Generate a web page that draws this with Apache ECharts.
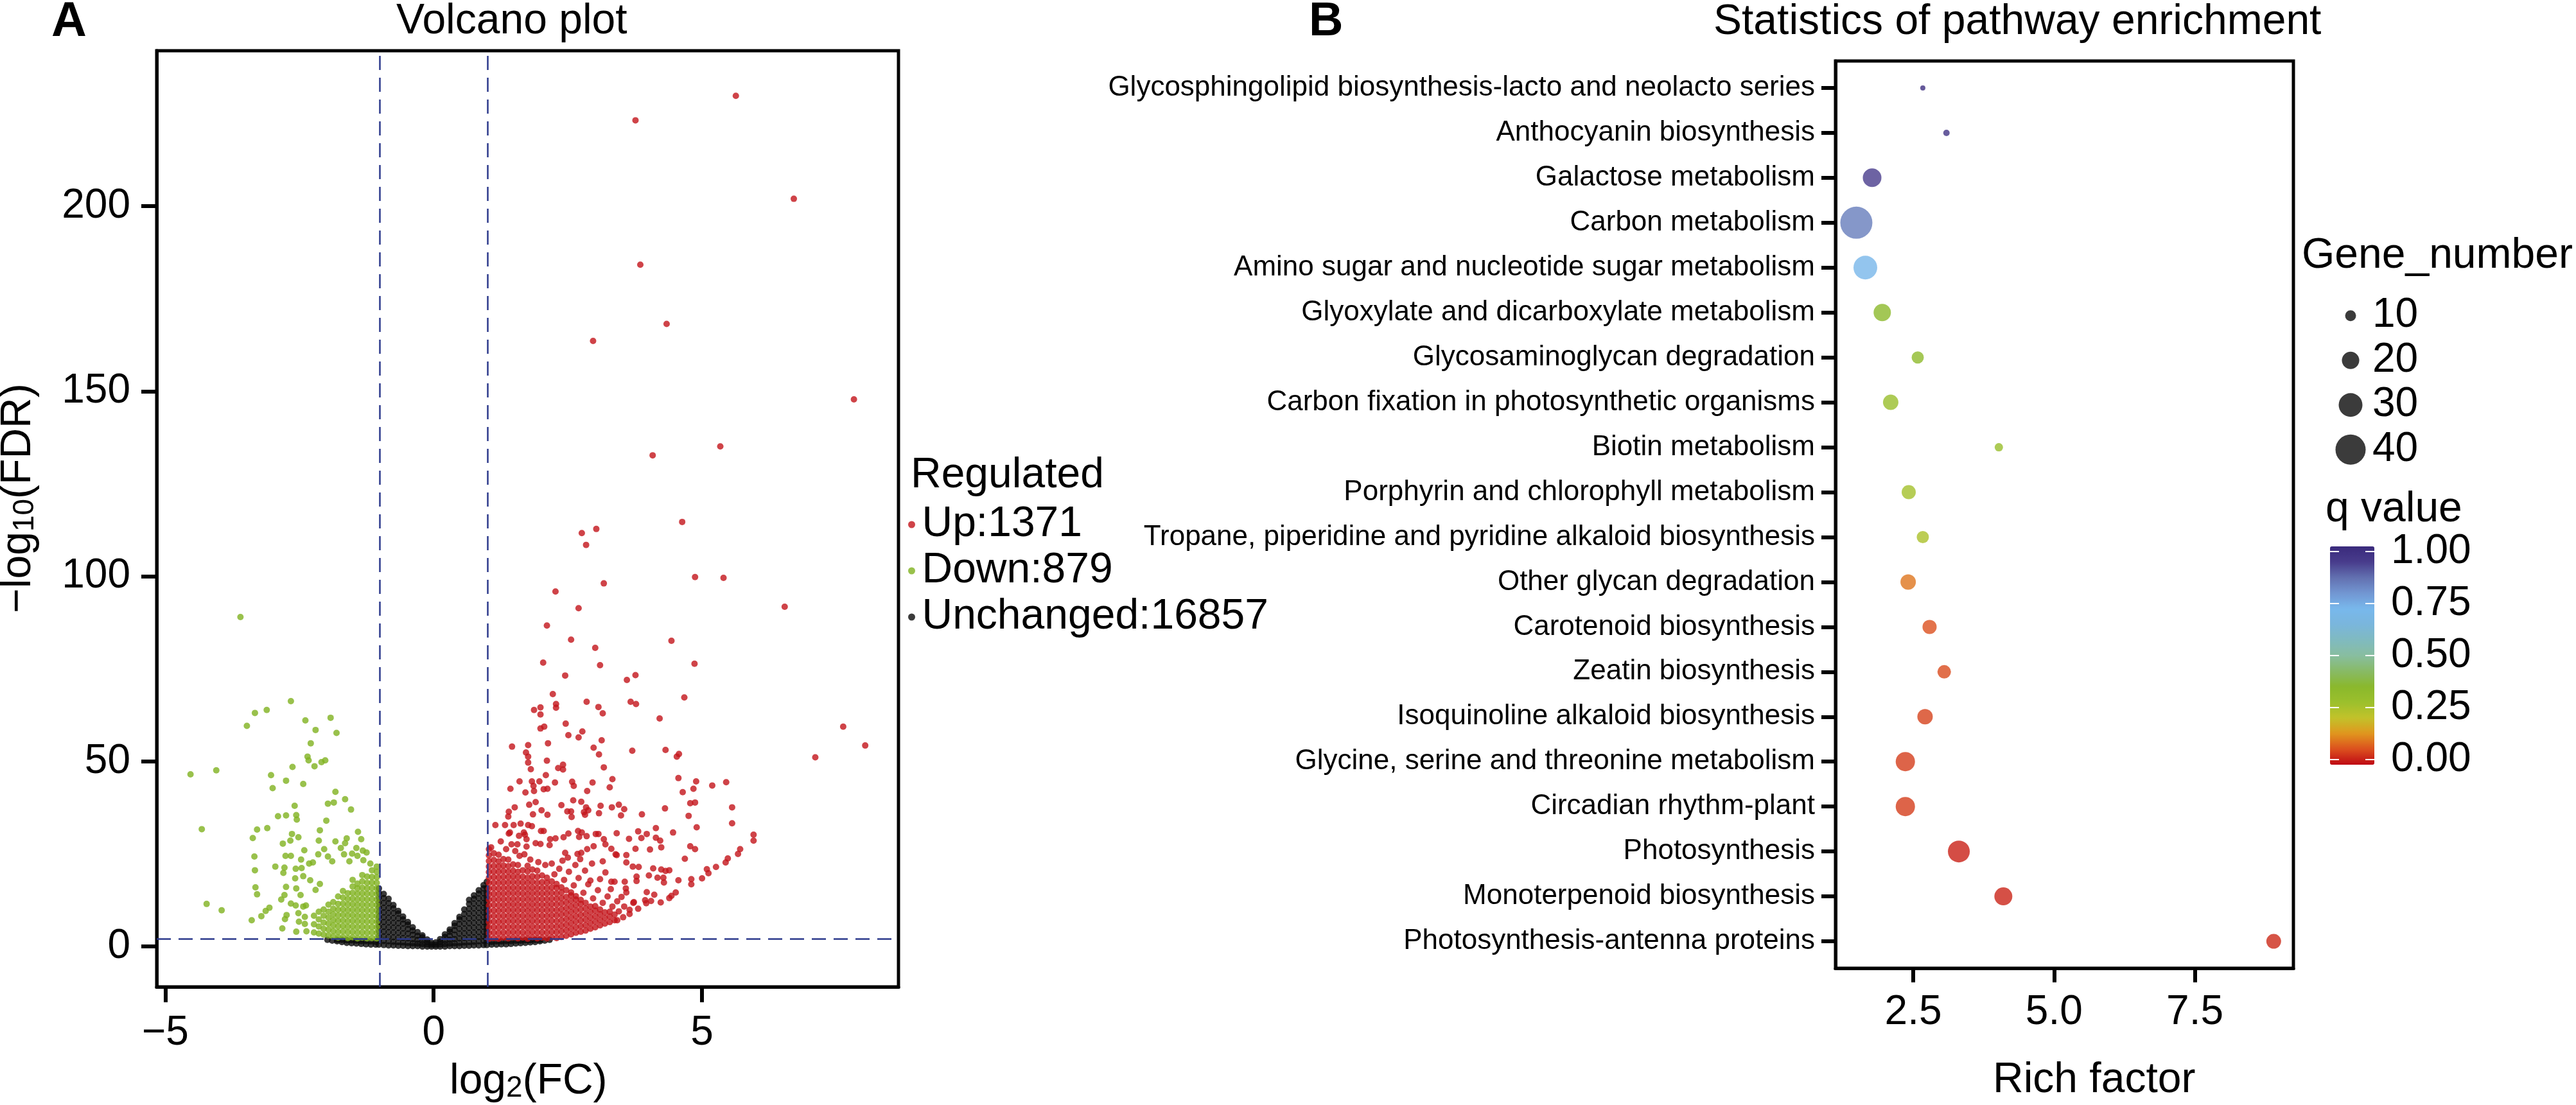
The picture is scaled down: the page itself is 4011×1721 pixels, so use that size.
<!DOCTYPE html>
<html><head><meta charset="utf-8">
<script src="https://cdn.jsdelivr.net/npm/echarts@6/dist/echarts.min.js"></script>
<style>html,body{margin:0;padding:0;background:#fff}#c{width:4011px;height:1721px}</style>
</head><body><div id="c"></div>
<script>
const FONT = '"Liberation Sans", Arial, Helvetica, sans-serif';

// ---------- Panel A : volcano plot ----------
const volcanoXTicks = [-5, 0, 5];
const volcanoYTicks = [0, 50, 100, 150, 200];
const fcCutoffs = [-1, 1];
const fdrCutoff = 2;
const regulatedLabels = ['Up:1371', 'Down:879', 'Unchanged:16857'];

// dense clouds read column by column: [log2FC, [-log10FDR values]]
const unchangedColumns = [
 [-1.98,[1.8]],[-1.89,[1.6]],[-1.80,[1.4,1.8]],[-1.71,[1.2,1.8]],[-1.62,[1.0,1.7]],[-1.53,[0.9,1.7]],
 [-1.44,[0.8,1.6]],[-1.35,[0.7,1.5]],[-1.26,[0.6,1.5]],[-1.17,[0.5,1.4]],[-1.08,[0.5,1.3]],
 [-1.02,[0.5,1.6,2.8,4.1,5.4,6.7,8.0,9.3,10.6,11.9,13.2,14.5,15.7]],
 [-0.93,[0.4,1.5,2.7,4.0,5.3,6.6,7.9,9.2,10.5,11.8,13.1,14.2]],
 [-0.84,[0.3,1.4,2.6,3.9,5.2,6.5,7.8,9.1,10.4,11.7,12.9]],
 [-0.75,[0.3,1.3,2.5,3.8,5.1,6.4,7.7,9.0,10.3,11.2]],
 [-0.66,[0.2,1.2,2.4,3.7,5.0,6.3,7.6,8.9,9.6]],
 [-0.57,[0.2,1.1,2.3,3.6,4.9,6.2,7.3,8.1]],
 [-0.48,[0.1,1.0,2.2,3.5,4.7,5.9,6.6]],
 [-0.39,[0.1,0.9,2.0,3.2,4.3,5.2]],
 [-0.30,[0.1,0.8,1.8,2.9,3.9]],
 [-0.21,[0.0,0.7,1.6,2.5,3.0]],
 [-0.12,[0.0,0.6,1.3,1.9]],
 [-0.04,[0.0,0.5,1.0]],
 [0.04,[0.0,0.5,1.1]],
 [0.12,[0.0,0.6,1.3,2.0]],
 [0.21,[0.0,0.7,1.6,2.6,3.3]],
 [0.30,[0.1,0.8,1.8,2.9,4.0,4.6]],
 [0.39,[0.1,0.9,2.0,3.2,4.4,5.6,6.3]],
 [0.48,[0.1,1.0,2.2,3.5,4.8,6.1,7.3,8.0]],
 [0.57,[0.2,1.1,2.3,3.6,4.9,6.2,7.5,8.8,10.0]],
 [0.66,[0.2,1.2,2.4,3.7,5.0,6.3,7.6,8.9,10.2,11.5,12.6]],
 [0.75,[0.3,1.3,2.5,3.8,5.1,6.4,7.7,9.0,10.3,11.6,12.9,13.8]],
 [0.84,[0.3,1.4,2.6,3.9,5.2,6.5,7.8,9.1,10.4,11.7,13.0,14.3,15.2]],
 [0.93,[0.4,1.5,2.7,4.0,5.3,6.6,7.9,9.2,10.5,11.8,13.1,14.4,15.7,16.6]],
 [0.99,[0.4,1.6,2.8,4.1,5.4,6.7,8.0,9.3,10.6,11.9,13.2,14.5,15.8,17.5]],
 [1.08,[0.5,1.3]],[1.17,[0.5,1.4]],[1.26,[0.6,1.4]],[1.35,[0.6,1.5]],[1.44,[0.7,1.5]],[1.53,[0.8,1.6]],
 [1.62,[0.9,1.6]],[1.71,[1.0,1.7]],[1.80,[1.1,1.7]],[1.89,[1.2,1.8]],[1.98,[1.4,1.8]],[2.07,[1.6]],[2.16,[1.8]]
];

const downColumns = [
 [-1.06,[2.2,3.7,5.2,6.7,8.2,9.7,11.2,12.7,14.2,15.7,17.2,18.7,20.2,21.6]],
 [-1.15,[2.3,3.8,5.3,6.8,8.3,9.8,11.3,12.8,14.3,15.8,17.3,18.8,20.6]],
 [-1.24,[2.2,3.7,5.2,6.7,8.2,9.7,11.2,12.7,14.2,15.7,17.2,18.9]],
 [-1.33,[2.4,3.9,5.4,6.9,8.4,9.9,11.4,12.9,14.4,15.9,17.6,19.3]],
 [-1.42,[2.2,3.7,5.2,6.7,8.2,9.7,11.2,12.7,14.2,15.7,17.0]],
 [-1.51,[2.5,4.0,5.5,7.0,8.5,10.0,11.5,13.0,14.5,16.2,18.0]],
 [-1.60,[2.3,3.8,5.3,6.8,8.3,9.8,11.3,12.8,14.4]],
 [-1.69,[2.6,4.1,5.6,7.1,8.6,10.1,11.6,13.2,15.0]],
 [-1.78,[2.4,3.9,5.4,6.9,8.4,9.9,11.5,13.5]],
 [-1.87,[2.7,4.2,5.7,7.2,8.7,10.2,12.0]],
 [-1.96,[3.0,4.6,6.2,7.8,9.4,11.3]],
 [-2.05,[3.2,4.8,6.5,8.3,10.0]],
 [-2.14,[3.5,5.4,7.3,9.4]],
 [-2.23,[3.8,6.0,8.3]]
];

const downScatter = [
 [-3.60,89.0],[-2.66,66.3],[-3.11,63.9],[-3.33,63.1],[-1.92,61.8],[-2.39,61.1],[-3.48,59.6],[-2.20,58.5],
 [-1.81,57.7],[-2.29,54.9],[-2.35,51.3],[-2.33,50.3],[-2.09,49.8],[-2.02,50.3],[-2.22,48.7],[-2.63,48.5],
 [-4.05,47.6],[-4.53,46.5],[-3.03,46.3],[-2.75,44.8],[-2.43,43.9],[-3.00,42.8],[-1.83,41.8],[-1.65,39.8],
 [-1.97,38.6],[-1.86,38.9],[-1.54,37.0],[-2.59,38.0],[-2.90,35.2],[-2.75,35.4],[-2.56,35.5],[-2.55,34.3],
 [-2.00,34.0],[-4.32,31.7],[-3.29,31.6],[-3.10,32.0],[-3.37,29.3],[-2.12,31.4],[-1.41,31.0],[-1.35,29.0],
 [-2.64,30.4],[-2.52,29.5],[-2.67,28.6],[-2.81,27.8],[-2.14,28.6],[-1.62,29.2],[-1.83,28.4],[-1.65,27.9],
 [-1.73,26.6],[-2.04,26.3],[-2.41,26.0],[-1.44,26.6],[-1.32,25.9],[-1.25,25.4],[-3.34,24.3],[-2.76,24.5],
 [-2.66,24.5],[-2.15,24.9],[-1.97,24.3],[-1.67,24.9],[-1.52,25.1],[-1.42,24.5],[-2.47,23.5],[-1.31,23.3],
 [-3.33,20.6],[-2.95,21.6],[-2.78,21.3],[-2.57,21.0],[-2.46,21.2],[-2.32,22.4],[-2.25,22.7],[-1.89,23.0],
 [-1.57,23.0],[-1.18,22.4],[-2.80,19.9],[-2.58,18.4],[-2.43,19.0],[-2.30,17.9],[-2.12,16.9],[-3.32,16.0],
 [-3.29,14.1],[-2.75,16.1],[-2.56,15.7],[-2.20,15.3],[-2.78,13.9],[-2.48,13.9],[-2.84,12.7],[-4.23,11.5],
 [-3.95,9.8],[-3.39,7.1],[-3.21,8.2],[-3.13,9.6],[-3.06,10.5],[-2.82,4.9],[-2.77,7.4],[-2.74,8.5],
 [-2.66,11.6],[-2.57,11.1],[-2.56,4.0],[-2.52,9.0],[-2.51,6.7],[-2.43,10.8],[-2.38,11.1],[-2.40,8.0],
 [-2.40,6.1],[-2.37,4.1]
];

const upColumns = [
 [1.03,[2.1,3.6,5.1,6.6,8.1,9.6,11.1,12.6,14.1,15.6,17.1,18.6,20.1,21.6,23.1,24.6,26.3]],
 [1.12,[2.3,3.8,5.3,6.8,8.3,9.8,11.3,12.8,14.3,15.8,17.3,18.8,20.3,21.8,23.4,25.2]],
 [1.21,[2.1,3.6,5.1,6.6,8.1,9.6,11.1,12.6,14.1,15.6,17.1,18.6,20.1,21.6,23.0,24.8]],
 [1.30,[2.4,3.9,5.4,6.9,8.4,9.9,11.4,12.9,14.4,15.9,17.4,18.9,20.4,21.9,23.6]],
 [1.39,[2.2,3.7,5.2,6.7,8.2,9.7,11.2,12.7,14.2,15.7,17.2,18.7,20.2,21.7,23.5]],
 [1.48,[2.5,4.0,5.5,7.0,8.5,10.0,11.5,13.0,14.5,16.0,17.5,19.0,20.5,22.2]],
 [1.57,[2.2,3.7,5.2,6.7,8.2,9.7,11.2,12.7,14.2,15.7,17.2,18.7,20.2,22.0]],
 [1.66,[2.4,3.9,5.4,6.9,8.4,9.9,11.4,12.9,14.4,15.9,17.4,18.9,20.6]],
 [1.75,[2.1,3.6,5.1,6.6,8.1,9.6,11.1,12.6,14.1,15.6,17.1,18.6,20.3,21.8]],
 [1.84,[2.5,4.0,5.5,7.0,8.5,10.0,11.5,13.0,14.5,16.0,17.5,19.0,20.8]],
 [1.93,[2.2,3.7,5.2,6.7,8.2,9.7,11.2,12.7,14.2,15.7,17.2,18.8,20.5]],
 [2.02,[2.4,3.9,5.4,6.9,8.4,9.9,11.4,12.9,14.4,15.9,17.4,19.2]],
 [2.11,[2.2,3.7,5.2,6.7,8.2,9.7,11.2,12.7,14.2,15.7,17.2,18.6]],
 [2.20,[2.5,4.0,5.5,7.0,8.5,10.0,11.5,13.0,14.5,16.0,17.6]],
 [2.29,[2.3,3.8,5.3,6.8,8.3,9.8,11.3,12.8,14.3,15.8,16.9]],
 [2.38,[2.6,4.1,5.6,7.1,8.6,10.1,11.6,13.1,14.6,16.0]],
 [2.47,[2.9,4.4,5.9,7.4,8.9,10.4,11.9,13.4,15.2]],
 [2.56,[3.3,4.8,6.3,7.8,9.3,10.8,12.3,13.8,14.6]],
 [2.65,[3.7,5.2,6.7,8.2,9.7,11.2,12.7,13.6]],
 [2.74,[4.0,5.5,7.0,8.5,10.0,11.5,12.6]],
 [2.83,[4.3,5.8,7.3,8.8,10.3,11.8]],
 [2.92,[4.8,6.3,7.8,9.3,10.8]],
 [3.01,[5.2,6.7,8.2,9.7,10.9]],
 [3.10,[5.7,7.2,8.7,10.0]],
 [3.19,[6.2,7.7,9.2]],
 [3.28,[6.6,8.1,9.4]],
 [3.37,[7.1,8.6]]
];

const upScatter = [
 [5.63,229.8],[3.76,223.2],[6.71,202.0],[3.85,184.2],[4.34,168.2],[2.97,163.6],[7.83,147.8],[5.34,135.1],[4.08,132.7],
 [4.63,114.7],[3.03,112.8],[2.76,111.7],[2.84,108.5],[4.87,99.8],[5.40,99.6],[3.17,98.1],[2.27,95.9],[2.70,91.4],
 [6.54,91.8],[2.11,86.7],[2.56,82.9],[4.43,82.6],[3.01,80.7],[2.04,76.7],[3.10,76.0],[4.86,76.4],[2.45,73.2],
 [3.60,72.0],[3.76,73.3],[2.22,68.2],[4.67,67.3],[2.85,66.1],[3.67,66.1],[3.77,65.5],[2.28,65.5],[2.28,64.5],
 [1.99,64.6],[1.87,63.9],[1.99,62.7],[3.07,64.7],[3.15,63.0],[4.21,61.6],[2.46,60.2],[2.06,59.4],[1.99,58.9],
 [7.63,59.4],[2.51,57.1],[2.77,58.1],[2.70,56.5],[3.13,55.7],[8.04,54.3],[2.13,54.9],[1.76,54.4],[1.46,54.0],
 [2.98,53.7],[1.72,52.4],[1.76,51.3],[3.08,51.9],[3.70,52.9],[4.32,53.1],[4.57,52.0],[4.53,51.3],[7.11,51.1],
 [1.76,49.7],[2.11,50.2],[2.41,49.1],[2.32,48.2],[3.17,48.4],[1.81,47.9],
 [2.41,47.8],[2.09,46.3],[4.56,45.5],[3.33,45.2],[4.89,44.6],[5.45,44.4],[5.19,43.5],[4.84,42.6],[4.64,41.7],
 [1.60,44.6],[1.83,44.6],[1.97,44.6],[1.43,42.6],[1.71,41.6],[1.87,42.0],[1.86,43.4],[2.05,42.5],[2.12,42.6],
 [2.26,44.3],[2.58,44.5],[2.61,43.4],[2.96,44.3],[2.86,42.0],[3.28,43.0],[2.60,39.5],[2.75,39.1],[1.90,39.0],
 [1.78,38.3],[1.51,37.6],[1.40,36.4],[1.39,35.1],[1.85,35.7],[2.01,36.8],[2.12,35.6],[2.38,38.2],[2.49,36.5],
 [2.56,36.5],[2.57,35.0],[2.84,37.6],[2.88,36.8],[2.80,36.3],[2.82,35.6],[3.11,38.0],[3.08,36.0],[3.32,37.6],
 [3.45,38.3],[3.55,37.1],[3.49,35.4],[3.88,35.7],[4.31,37.3],[5.56,37.6],[4.78,38.7],[4.87,38.9],[4.75,35.3],
 [5.56,33.3],[4.90,32.2],[4.14,32.0],[4.46,30.8],[3.97,30.4],[3.81,31.1],[3.87,29.3],[4.14,29.4],[4.22,28.6],
 [4.24,26.8],[4.03,26.2],[3.64,29.1],[3.41,30.6],[3.17,29.0],[3.20,27.6],[3.31,26.4],[3.02,30.4],[3.07,30.4],
 [2.85,29.8],[2.69,31.2],[2.76,30.8],[2.71,29.6],[2.51,30.5],[2.42,29.5],[2.27,29.2],[2.17,29.0],[2.05,31.2],
 [2.00,31.2],[1.83,32.5],[1.76,32.8],[1.62,33.2],[1.49,32.8],[1.33,32.8],[1.15,32.8],[1.42,30.8],[1.40,30.5],
 [1.68,30.8],[1.59,29.9],[1.70,30.2],[1.73,29.0],[1.25,28.4],[1.45,27.6],[1.56,27.6],[1.90,27.9],[1.99,27.7],
 [2.16,27.4],[1.73,27.0],[1.07,26.8],[2.45,25.3],[2.68,25.0],[2.75,25.3],[2.86,26.3],[2.98,27.1],[3.39,24.9],
 [3.59,24.7],[3.76,26.4],[4.68,23.7],[4.78,27.1],[4.87,26.3],[5.96,30.2],[5.96,28.6],[5.71,26.3],[5.67,25.0],
 [5.48,23.8],[5.44,22.7],[5.26,21.5],[5.09,20.9],[5.12,19.8],[5.00,18.4],[4.80,18.2],[4.80,16.8],[4.56,17.9],
 [4.51,14.6],[4.43,13.7],[4.39,13.1],[4.23,11.9],[4.11,14.0],[3.97,14.7],[3.94,12.5],[3.81,10.2],[3.72,11.8],
 [3.65,8.8],[3.53,7.9],[3.42,7.1],[4.32,20.4],[4.39,20.6],[4.28,18.6],[4.17,18.6],[4.09,21.1],[4.24,20.8],
 [4.01,19.2],[4.29,17.3],[3.78,18.9],[3.78,17.7],[3.71,21.6],[3.82,21.5],[3.59,22.7],[3.41,24.7],[3.58,15.7],
 [3.59,14.6],[3.31,17.5],[3.37,17.5],[3.56,17.5],[3.50,13.4],[3.73,12.0],[3.96,11.7],[4.05,12.3],[3.65,9.9],
 [2.25,19.5],[2.34,21.0],[2.43,18.0],[2.52,20.2],[2.61,16.5],[2.70,18.5],[2.79,14.5],[2.88,16.8],[2.97,13.0],
 [3.06,15.2],[3.15,11.8],[3.24,13.5],[3.33,10.8],[3.42,12.2],[2.40,23.2],[2.64,22.0],[2.82,20.5],[2.95,22.4],
 [3.10,18.2],[3.20,20.0],[3.30,15.5],[3.45,9.5],[3.55,10.8],[2.50,24.0],[2.20,22.4],[2.92,17.8],[3.15,23.0],
 [2.73,23.6],[1.60,24.5],[1.80,23.5],[1.95,22.8],[2.08,22.0],[1.35,26.3],[1.52,25.8],[1.69,24.9]
];

// ---------- Panel B : pathway enrichment ----------
const pathways = [
 'Glycosphingolipid biosynthesis-lacto and neolacto series',
 'Anthocyanin biosynthesis',
 'Galactose metabolism',
 'Carbon metabolism',
 'Amino sugar and nucleotide sugar metabolism',
 'Glyoxylate and dicarboxylate metabolism',
 'Glycosaminoglycan degradation',
 'Carbon fixation in photosynthetic organisms',
 'Biotin metabolism',
 'Porphyrin and chlorophyll metabolism',
 'Tropane, piperidine and pyridine alkaloid biosynthesis',
 'Other glycan degradation',
 'Carotenoid biosynthesis',
 'Zeatin biosynthesis',
 'Isoquinoline alkaloid biosynthesis',
 'Glycine, serine and threonine metabolism',
 'Circadian rhythm-plant',
 'Photosynthesis',
 'Monoterpenoid biosynthesis',
 'Photosynthesis-antenna proteins'
];
const richFactor = [2.67,3.09,1.77,1.49,1.65,1.95,2.58,2.10,4.02,2.42,2.67,2.41,2.79,3.05,2.71,2.36,2.36,3.31,4.10,8.90];
const geneNumber = [1,3,22,43,30,20,12,17,6,15,12,17,15,14,17,23,23,27,21,16];
const qValue = [1.00,0.98,0.95,0.85,0.73,0.34,0.33,0.29,0.29,0.26,0.245,0.09,0.05,0.045,0.035,0.03,0.03,0.0,0.003,0.008];
const richTicks = [2.5, 5.0, 7.5];
const geneLegend = [10, 20, 30, 40];
const qTicks = [0, 0.25, 0.5, 0.75, 1];

// ---------- styles ----------
const qColors = ['#bf0a14','#dc501e','#e0961e','#c2c22a','#9cc02c','#8ab82c','#88ba66','#88bea0',
                 '#80bac0','#7ab6dc','#78b8ec','#7296d2','#6270b0','#483c8c','#3a2a7c'];
const BLACK = '#0a0a0a', RED = '#c3141a', GREEN = '#7fb11f';
const axisText = () => ({color:'#000', fontSize:64, fontFamily:FONT});
const tickStyle = () => ({color:'#000', width:6});
const edgeLine = () => ({show:true, onZero:false, lineStyle:{color:'#000', width:5}});
const noLine = () => ({show:false, onZero:false});
const sizeOf = n => 7 + n;
const minus = v => v < 0 ? '\u2212' + Math.abs(v) : String(v);
const flatten = cols => { const out = []; cols.forEach(c => c[1].forEach(y => out.push([c[0], y]))); return out; };
const idx = pathways.map((p, i) => i);

function txt(x, y, text, size, weight, extra) {
  return Object.assign({type:'text', x:x, y:y, silent:true, style:{
    text:text, fill:'#000', fontSize:size, fontFamily:FONT, fontWeight:weight||'normal',
    align:'left', textAlign:'left', verticalAlign:'middle', textVerticalAlign:'middle'}}, extra||{});
}
const richDef = {
  a:{fontSize:66, fontFamily:FONT, lineHeight:66, fill:'#000', color:'#000'},
  s:{fontSize:46, fontFamily:FONT, lineHeight:24, verticalAlign:'bottom', fill:'#000', color:'#000'}
};

const chart = echarts.init(document.getElementById('c'), null, {renderer:'canvas', width:4011, height:1721});
chart.setOption({
  animation:false,
  backgroundColor:'#fff',
  textStyle:{fontFamily:FONT},
  grid:[
    {left:244, top:79, width:1155, height:1458, show:true, borderColor:'#000', borderWidth:5},
    {left:2858, top:95, width:713, height:1413, show:true, borderColor:'#000', borderWidth:5},
    {left:3628, top:851, width:69, height:340},
    {left:3630, top:457, width:60, height:278}
  ],
  xAxis:[
    {gridIndex:0, type:'value', min:-5.16, max:8.66, axisLine:edgeLine(), splitLine:{show:false},
     axisTick:{show:true, customValues:volcanoXTicks, length:24, lineStyle:tickStyle()},
     axisLabel:Object.assign({customValues:volcanoXTicks, formatter:minus, margin:40}, axisText())},
    {gridIndex:1, type:'value', min:1.12, max:9.25, axisLine:edgeLine(), splitLine:{show:false},
     axisTick:{show:true, customValues:richTicks, length:22, lineStyle:tickStyle()},
     axisLabel:Object.assign({customValues:richTicks, formatter:v => v.toFixed(1), margin:37}, axisText())},
    {gridIndex:2, type:'value', show:false, min:0, max:1, axisLine:noLine()},
    {gridIndex:3, type:'value', show:false, min:-1, max:1, axisLine:noLine()}
  ],
  yAxis:[
    {gridIndex:0, type:'value', min:-10.9, max:242, axisLine:edgeLine(), splitLine:{show:false},
     axisTick:{show:true, customValues:volcanoYTicks, length:24, lineStyle:tickStyle()},
     axisLabel:Object.assign({customValues:volcanoYTicks, margin:41}, axisText())},
    {gridIndex:1, type:'value', inverse:true, min:-0.6, max:19.6, axisLine:edgeLine(), splitLine:{show:false},
     axisTick:{show:true, customValues:idx, length:22, lineStyle:tickStyle()},
     axisLabel:{customValues:idx, formatter:v => pathways[Math.round(v)], margin:32, color:'#000', fontSize:44, fontFamily:FONT}},
    {gridIndex:2, type:'value', min:-0.025, max:1.025, position:'right', z:10, axisLine:noLine(), splitLine:{show:false},
     axisTick:{show:true, inside:true, customValues:qTicks, length:14, lineStyle:{color:'#fff', width:2}},
     axisLabel:Object.assign({customValues:qTicks, formatter:v => v.toFixed(2), margin:26}, axisText())},
    {gridIndex:2, type:'value', min:-0.025, max:1.025, position:'left', z:10, axisLine:noLine(), splitLine:{show:false},
     axisTick:{show:true, inside:true, customValues:qTicks, length:14, lineStyle:{color:'#fff', width:2}},
     axisLabel:{show:false}},
    {gridIndex:3, type:'category', inverse:true, position:'right', data:geneLegend.map(String),
     axisLine:noLine(), axisTick:{show:false}, splitLine:{show:false},
     axisLabel:Object.assign({margin:4, interval:0}, axisText())}
  ],
  legend:{
    data:regulatedLabels, orient:'vertical', left:1414, top:784, padding:0, itemGap:6,
    itemWidth:22, itemHeight:11, icon:'circle', selectedMode:false,
    textStyle:{fontSize:66, lineHeight:66, color:'#000', fontFamily:FONT}
  },
  visualMap:{
    type:'continuous', seriesIndex:4, dimension:2, min:-0.025, max:1.025, calculable:false,
    left:3628, top:851, itemWidth:69, itemHeight:340, padding:0, hoverLink:false, z:1,
    inRange:{color:qColors}
  },
  series:[
    {type:'scatter', name:regulatedLabels[2], xAxisIndex:0, yAxisIndex:0, data:flatten(unchangedColumns),
     symbolSize:10, itemStyle:{color:BLACK}, silent:true, z:2},
    {type:'scatter', name:regulatedLabels[0], xAxisIndex:0, yAxisIndex:0, data:flatten(upColumns).concat(upScatter),
     symbolSize:10, itemStyle:{color:RED}, silent:true, z:3},
    {type:'scatter', name:regulatedLabels[1], xAxisIndex:0, yAxisIndex:0, data:flatten(downColumns).concat(downScatter),
     symbolSize:10, itemStyle:{color:GREEN}, silent:true, z:3},
    {type:'scatter', xAxisIndex:0, yAxisIndex:0, data:[], z:6,
     markLine:{silent:true, symbol:['none','none'], label:{show:false}, animation:false,
       lineStyle:{color:'#2d3a8c', width:2.5, type:[22,12]},
       data:[{xAxis:fcCutoffs[0]},{xAxis:fcCutoffs[1]},{yAxis:fdrCutoff}]}},
    {type:'scatter', xAxisIndex:1, yAxisIndex:1, silent:true, z:3,
     data:pathways.map((p, i) => [richFactor[i], i, qValue[i], geneNumber[i]]),
     symbolSize:d => sizeOf(d[3])},
    {type:'scatter', xAxisIndex:3, yAxisIndex:4, silent:true,
     data:geneLegend.map((g, i) => [0, i, g]), symbolSize:d => sizeOf(d[2]), itemStyle:{color:BLACK}},
    {type:'scatter', xAxisIndex:2, yAxisIndex:2, data:[], silent:true}
  ],
  graphic:[
    txt(80, 35, 'A', 76, 'bold'),
    txt(617, 34, 'Volcano plot', 66),
    txt(2038, 35, 'B', 74, 'bold'),
    txt(2668, 35, 'Statistics of pathway enrichment', 66),
    txt(1418, 741, 'Regulated', 66),
    txt(3584, 399, 'Gene_number', 66),
    txt(3621, 794, 'q value', 66),
    txt(3103, 1683, 'Rich factor', 66),
    {type:'text', x:700, y:1685, silent:true, style:{text:'{a|log}{s|2}{a|(FC)}', rich:richDef,
      align:'left', textAlign:'left', verticalAlign:'middle', textVerticalAlign:'middle', fill:'#000'}},
    {type:'text', x:29, y:776, rotation:Math.PI/2, silent:true, style:{text:'{a|\u2212log}{s|10}{a|(FDR)}', rich:richDef,
      align:'center', textAlign:'center', verticalAlign:'middle', textVerticalAlign:'middle', fill:'#000'}}
  ]
});
</script>
</body></html>
